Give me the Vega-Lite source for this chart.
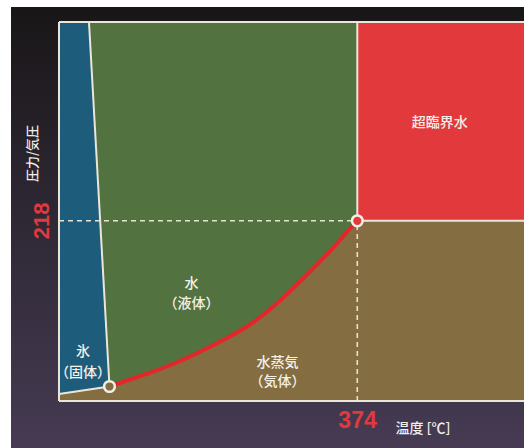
{
  "$schema": "https://vega.github.io/schema/vega-lite/v6.json",
  "width": 513,
  "height": 441,
  "autosize": {"type": "none"},
  "padding": {"left": 11, "top": 7, "right": 0, "bottom": 0},
  "background": "#ffffff",
  "view": {
    "stroke": null,
    "fill": {
      "gradient": "linear",
      "x1": 0, "y1": 0, "x2": 0, "y2": 1,
      "stops": [
        {"offset": 0, "color": "#191617"},
        {"offset": 0.5, "color": "#2f2936"},
        {"offset": 1, "color": "#463b53"}
      ]
    }
  },
  "datasets": {
    "phases": [
      {"phase": "水蒸気", "u": 0, "u2": 100, "v": 0, "v2": 100},
      {"phase": "超臨界水", "u": 64.15, "u2": 100, "v": 47.55, "v2": 100}
    ],
    "liquid": [
      {"u": 0, "v": 3.83},
      {"u": 10.86, "v": 3.83},
      {"u": 15.98, "v": 5.99},
      {"u": 23.16, "v": 9.1},
      {"u": 30.32, "v": 13.01},
      {"u": 37.48, "v": 17.55},
      {"u": 41.08, "v": 20.18},
      {"u": 44.67, "v": 23.48},
      {"u": 48.24, "v": 27.31},
      {"u": 51.83, "v": 31.53},
      {"u": 55.42, "v": 35.94},
      {"u": 58.99, "v": 40.5},
      {"u": 61.51, "v": 44.01},
      {"u": 64.15, "v": 47.55}
    ],
    "solid": [
      {"u": 0, "v": 1.85, "v2": 100},
      {"u": 6.45, "v": 3.03, "v2": 100},
      {"u": 10.86, "v": 3.83, "v2": 3.83}
    ],
    "boundaries": [
      {"u": 0, "v": 0, "u2": 0, "v2": 100},
      {"u": 0, "v": 100, "u2": 100, "v2": 100},
      {"u": 0, "v": 0, "u2": 100, "v2": 0},
      {"u": 6.45, "v": 100, "u2": 10.86, "v2": 3.83},
      {"u": 0, "v": 1.85, "u2": 10.86, "v2": 3.83},
      {"u": 64.15, "v": 47.55, "u2": 64.15, "v2": 100},
      {"u": 64.15, "v": 47.55, "u2": 100, "v2": 47.55}
    ],
    "guides": [
      {"u": 0, "v": 47.55, "u2": 64.15, "v2": 47.55},
      {"u": 64.15, "v": 0, "u2": 64.15, "v2": 47.55}
    ],
    "points": [
      {"name": "三重点", "u": 10.86, "v": 3.83},
      {"name": "臨界点", "u": 64.15, "v": 47.55}
    ],
    "labels": [
      {"text": "超臨界水", "u": 81.9, "v": 73.4},
      {"text": "水", "u": 28.5, "v": 31.0},
      {"text": "（液体）", "u": 28.5, "v": 25.7},
      {"text": "水蒸気", "u": 47.0, "v": 9.9},
      {"text": "（気体）", "u": 47.0, "v": 5.0},
      {"text": "氷", "u": 5.16, "v": 12.9},
      {"text": "（固体）", "u": 5.16, "v": 7.5}
    ],
    "critical": [
      {"axis": "T", "label": "374", "u": 64.2, "v": -5.3},
      {"axis": "P", "label": "218", "u": -3.76, "v": 47.55}
    ]
  },
  "encoding": {
    "x": {
      "field": "u", "type": "quantitative",
      "scale": {"domain": [-10.32, 100], "nice": false, "zero": false},
      "axis": {
        "title": "温度 [℃]", "labels": false, "ticks": false, "domain": false, "grid": false,
        "titleX": 411.5, "titleY": -19.7, "titleAlign": "center", "titleBaseline": "middle",
        "titleColor": "#f2efe8", "titleFont": "Noto Sans CJK JP", "titleFontSize": 14,
        "titleFontWeight": 500, "zindex": 1
      }
    },
    "y": {
      "field": "v", "type": "quantitative",
      "scale": {"domain": [-12.4, 103.96], "nice": false, "zero": false},
      "axis": {
        "title": "圧力/気圧", "labels": false, "ticks": false, "domain": false, "grid": false,
        "titleX": 21.5, "titleY": 146, "titleAngle": 270, "titleAlign": "center", "titleBaseline": "middle",
        "titleColor": "#f2efe8", "titleFont": "Noto Sans CJK JP", "titleFontSize": 13,
        "titleFontWeight": 500, "zindex": 1
      }
    }
  },
  "layer": [
    {
      "data": {"name": "phases"},
      "mark": {"type": "rect"},
      "encoding": {
        "x2": {"field": "u2"},
        "y2": {"field": "v2"},
        "color": {
          "field": "phase", "type": "nominal",
          "scale": {"domain": ["水蒸気", "超臨界水"], "range": ["#836d41", "#e23a3c"]},
          "legend": null
        }
      }
    },
    {
      "data": {"name": "liquid"},
      "mark": {"type": "area", "color": "#52723f", "interpolate": "monotone", "opacity": 1},
      "encoding": {"y2": {"datum": 100}}
    },
    {
      "data": {"name": "solid"},
      "mark": {"type": "area", "color": "#1e5c7c", "opacity": 1},
      "encoding": {"y2": {"field": "v2"}}
    },
    {
      "data": {"name": "guides"},
      "mark": {"type": "rule", "color": "#e9e2cc", "strokeWidth": 1.6, "strokeDash": [5, 4]},
      "encoding": {"x2": {"field": "u2"}, "y2": {"field": "v2"}}
    },
    {
      "data": {"name": "boundaries"},
      "mark": {"type": "rule", "color": "#ebe6da", "strokeWidth": 2},
      "encoding": {"x2": {"field": "u2"}, "y2": {"field": "v2"}}
    },
    {
      "data": {"name": "liquid"},
      "transform": [{"filter": "datum.u > 10"}],
      "mark": {"type": "line", "color": "#e3262a", "strokeWidth": 4, "interpolate": "monotone"},
      "encoding": {}
    },
    {
      "data": {"name": "points"},
      "mark": {"type": "point", "filled": true, "size": 115, "stroke": "#f4efe6", "strokeWidth": 2.5, "opacity": 1},
      "encoding": {
        "color": {
          "field": "name", "type": "nominal",
          "scale": {"domain": ["三重点", "臨界点"], "range": ["#f4efe6", "#e23539"]},
          "legend": null
        }
      }
    },
    {
      "data": {"name": "labels"},
      "mark": {"type": "text", "align": "center", "baseline": "middle", "font": "Noto Sans CJK JP", "fontSize": 14, "fontWeight": 500, "color": "#f4f0e8"},
      "encoding": {"text": {"field": "text"}}
    },
    {
      "data": {"name": "critical"},
      "transform": [{"filter": "datum.axis === 'T'"}],
      "mark": {"type": "text", "align": "center", "baseline": "middle", "font": "Liberation Sans", "fontWeight": "bold", "fontSize": 23, "color": "#e0393e"},
      "encoding": {"text": {"field": "label"}}
    },
    {
      "data": {"name": "critical"},
      "transform": [{"filter": "datum.axis === 'P'"}],
      "mark": {"type": "text", "align": "center", "baseline": "middle", "angle": 270, "font": "Liberation Sans", "fontWeight": "bold", "fontSize": 22, "color": "#e0393e"},
      "encoding": {"text": {"field": "label"}}
    }
  ]
}
